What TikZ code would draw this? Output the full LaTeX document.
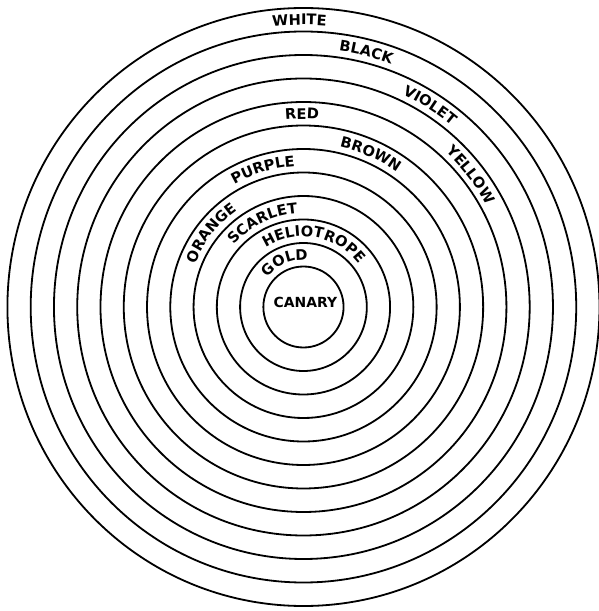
\documentclass[tikz,border=0pt]{standalone}
\usepackage{fontspec}
\usetikzlibrary{decorations.text}
\newfontfamily\ringfont{DejaVu Sans}

\begin{document}
\begin{tikzpicture}[
        x=0.25mm, y=0.2525mm,
        ring/.style = {draw, line width=1.3pt},
        lbl/.style  = {decorate, decoration={text along path, text align=center,
                       text={|\ringfont\bfseries\fontsize{10.5}{12}\selectfont|#1}}},
        core/.style = {font=\ringfont\bfseries\fontsize{10}{12}\selectfont, inner sep=0pt},
    ]
        \useasboundingbox (-306.5,-304) rectangle (298.5,307);

        % rings, inner to outer
        \foreach \k in {0,...,11}
            \draw[ring] (0,0) circle[radius={40.5+23.5*\k}];

        % names along the rings
        \path[lbl=WHITE]      (140.8:282) arc[start angle=140.8, end angle=40.8,  radius=282];
        \path[lbl=BLACK]      (126.1:258.5) arc[start angle=126.1, end angle=26.1,  radius=258.5];
        \path[lbl=VIOLET]     (107.8:235) arc[start angle=107.8, end angle=7.8,   radius=235];
        \path[lbl=YELLOW]     (88.2:211.5)  arc[start angle=88.2,  end angle=-11.8, radius=211.5];
        \path[lbl=RED]        (140.4:188) arc[start angle=140.4, end angle=40.4,  radius=188];
        \path[lbl=BROWN]      (116.2:164.5) arc[start angle=116.2, end angle=16.2,  radius=164.5];
        \path[lbl=PURPLE]     (156.5:141) arc[start angle=156.5, end angle=56.5,  radius=141];
        \path[lbl=ORANGE]     (191.5:117.5) arc[start angle=191.5, end angle=91.5,  radius=117.5];
        \path[lbl=SCARLET]    (165.9:94)  arc[start angle=165.9, end angle=65.9,  radius=94];
        \path[lbl=HELIOTROPE] (130.2:70.5)  arc[start angle=130.2, end angle=30.2,  radius=70.5];
        \path[lbl=GOLD]       (162.9:47)  arc[start angle=162.9, end angle=62.9,  radius=47];

        \node[core] (canary) at (2,5) {CANARY};
    \end{tikzpicture}
\end{document}
